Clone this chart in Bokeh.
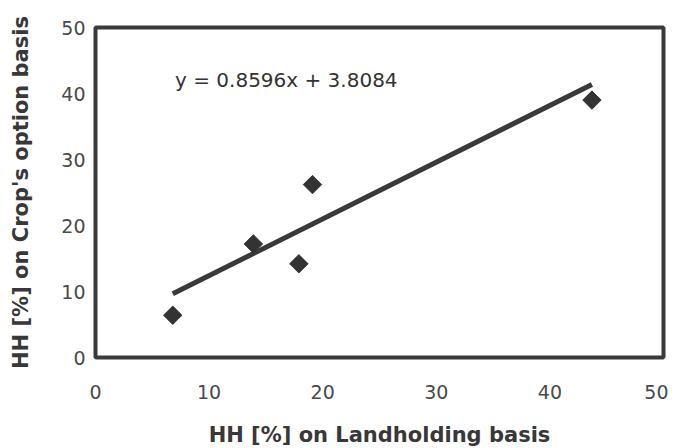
import math
from bokeh.plotting import figure
from bokeh.models import Range1d, FixedTicker, Label
from bokeh.embed import file_html
from bokeh.resources import INLINE

# Data
x_land = [6.8, 13.9, 17.9, 19.1, 43.7]
y_crop = [6.4, 17.2, 14.2, 26.2, 39.0]
slope = 0.8596
intercept = 3.8084
x_ticks = [0, 10, 20, 30, 40, 50]
y_ticks = [0, 10, 20, 30, 40, 50]
eq_text = "y = 0.8596x + 3.8084"

FONT = "DejaVu Sans"
DARK = "#3a3a3a"

p = figure(width=668, height=442, output_backend="svg", toolbar_location=None,
           x_range=Range1d(0, 50), y_range=Range1d(0, 50),
           min_border_left=95, min_border_right=5, min_border_top=27, min_border_bottom=85)
p.frame_width = 568
p.frame_height = 330

p.grid.visible = False
p.outline_line_color = DARK
p.outline_line_width = 4
p.outline_line_alpha = 1.0

for ax in (p.xaxis, p.yaxis):
    ax.axis_line_color = None
    ax.major_tick_line_color = None
    ax.minor_tick_line_color = None
    ax.major_label_text_font = FONT
    ax.major_label_text_font_size = "19px"
    ax.major_label_text_color = "#4a4a4a"
    ax.axis_label_text_font = FONT
    ax.axis_label_text_font_style = "bold"
    ax.axis_label_text_font_size = "21px"
    ax.axis_label_text_color = "#383838"

p.xaxis.ticker = FixedTicker(ticks=x_ticks)
p.yaxis.ticker = FixedTicker(ticks=y_ticks)
p.xaxis.major_label_standoff = 21
p.yaxis.major_label_standoff = 4
p.xaxis.axis_label = "HH [%] on Landholding basis"
p.yaxis.axis_label = "HH [%] on Crop's option basis"
p.xaxis.axis_label_standoff = 21
p.yaxis.axis_label_standoff = 25

# Regression line
x0, x1 = min(x_land), max(x_land)
p.line([x0, x1], [slope * x0 + intercept, slope * x1 + intercept],
       line_color=DARK, line_width=5)

# Points
p.scatter(x_land, y_crop, marker="square", size=13, angle=math.pi / 4,
          fill_color="#333333", line_color="#333333")

p.add_layout(Label(x=7.0, y=42.0, text=eq_text, text_font=FONT,
                   text_font_size="20px", text_color="#333333",
                   text_baseline="middle", text_align="left"))

open("out.html", "w").write(file_html(p, INLINE))
